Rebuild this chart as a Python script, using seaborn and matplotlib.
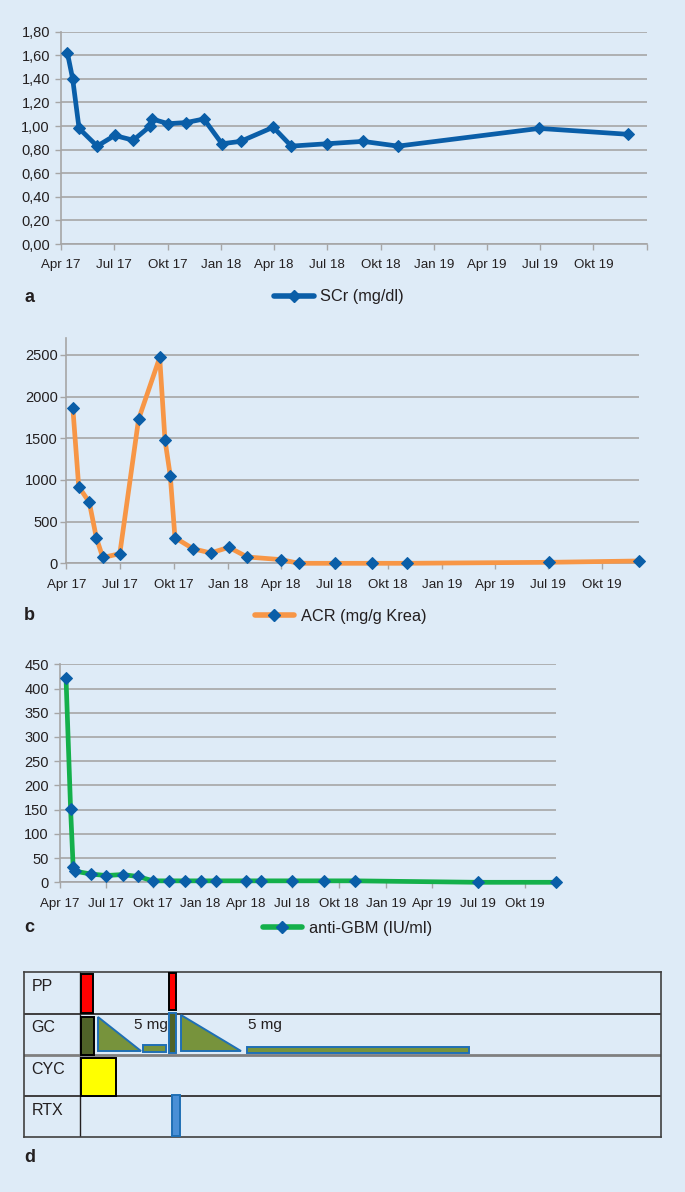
import matplotlib
matplotlib.use('Agg')
import numpy as np
import pandas as pd
import seaborn as sns
import matplotlib.pyplot as plt
from matplotlib.ticker import FuncFormatter
from matplotlib.lines import Line2D

# ---- data ----
scr_dates = ['2017-04-12', '2017-04-21', '2017-05-02', '2017-06-02', '2017-07-02',
             '2017-08-03', '2017-09-01', '2017-09-04', '2017-10-02', '2017-11-02',
             '2017-12-02', '2018-01-02', '2018-02-03', '2018-03-31', '2018-05-01',
             '2018-07-01', '2018-09-01', '2018-10-31', '2019-06-30', '2019-11-30']
scr_values = [1.62, 1.40, 0.98, 0.83, 0.92, 0.88, 1.00, 1.06, 1.02, 1.03,
              1.06, 0.85, 0.87, 0.99, 0.83, 0.85, 0.87, 0.83, 0.98, 0.93]

acr_dates = ['2017-04-12', '2017-04-22', '2017-05-10', '2017-05-22', '2017-06-02',
             '2017-07-01', '2017-08-02', '2017-09-07', '2017-09-16', '2017-09-25',
             '2017-10-03', '2017-11-03', '2017-12-03', '2018-01-03', '2018-02-03',
             '2018-04-02', '2018-05-02', '2018-07-02', '2018-09-03', '2018-11-02',
             '2019-07-03', '2019-12-03']
acr_values = [1860, 920, 732, 308, 70, 115, 1728, 2470, 1480, 1052,
              308, 174, 124, 192, 76, 44, 0, 0, 0, 0, 12, 28]

gbm_dates = ['2017-04-13', '2017-04-22', '2017-04-27', '2017-05-01', '2017-06-01',
             '2017-07-01', '2017-08-02', '2017-09-01', '2017-10-01', '2017-11-02',
             '2017-12-02', '2018-01-02', '2018-02-02', '2018-04-02', '2018-05-01',
             '2018-07-01', '2018-09-01', '2018-11-01', '2019-07-01', '2019-12-01']
gbm_values = [422, 151, 32, 23, 17, 14, 16, 12, 3, 3,
              3, 3, 3, 3, 3, 3, 3, 3, 0, 0]

quarter_dates = ['2017-04-01', '2017-07-01', '2017-10-01', '2018-01-01', '2018-04-01',
                 '2018-07-01', '2018-10-01', '2019-01-01', '2019-04-01', '2019-07-01',
                 '2019-10-01', '2020-01-01']
quarter_labels = ['Apr 17', 'Jul 17', 'Okt 17', 'Jan 18', 'Apr 18', 'Jul 18',
                  'Okt 18', 'Jan 19', 'Apr 19', 'Jul 19', 'Okt 19', '']

scr_yticks = [0, 0.2, 0.4, 0.6, 0.8, 1.0, 1.2, 1.4, 1.6, 1.8]
acr_yticks = [0, 500, 1000, 1500, 2000, 2500]
gbm_yticks = [0, 50, 100, 150, 200, 250, 300, 350, 400, 450]

# therapy schedule (months after start, row index 0=PP 1=GC 2=CYC 3=RTX)
row_labels = ['PP', 'GC', 'CYC', 'RTX']
bar_start = [0.02, 4.98, 0.02, 3.51, 4.96, 9.35, 0.02, 5.16]
bar_end = [0.69, 5.38, 0.76, 4.81, 5.38, 21.8, 1.99, 5.60]
bar_top = [0.05, 0.02, 1.08, 1.77, 0.99, 1.80, 2.08, 2.97]
bar_bottom = [0.99, 0.91, 2.00, 1.93, 1.96, 1.96, 3.00, 3.96]
bar_colors = ['#ff0000', '#ff0000', '#4f6228', '#77933c', '#4f6228', '#77933c', '#ffff00', '#4a8fd6']
bar_edges = ['#000000', '#000000', '#000000', '#1f6fb5', '#1f6fb5', '#1f6fb5', '#000000', '#1f6fb5']
taper_start = [0.96, 5.62]
taper_end = [3.39, 8.98]
taper_top = [1.08, 1.04]
taper_bottom = [1.91, 1.91]
dose_notes = ['5 mg', '5 mg']
dose_x = [3.93, 10.33]

BG = '#deebf7'
GRID = '#a6a6a6'
MARK = '#0a5ea8'

sns.set_style('whitegrid')
plt.rcParams['font.family'] = ['Liberation Sans Narrow', 'Liberation Sans', 'DejaVu Sans']
plt.rcParams['text.color'] = '#231f20'
plt.rcParams['xtick.color'] = GRID
plt.rcParams['ytick.color'] = GRID
plt.rcParams['xtick.labelcolor'] = '#231f20'
plt.rcParams['ytick.labelcolor'] = '#231f20'

fig = plt.figure(figsize=(6.85, 11.92), dpi=100, facecolor=BG)


def line_panel(rect, dates, values, color, lw, yticks, ylim, xend, fmt, ypad):
    ax = fig.add_axes(rect)
    ax.set_facecolor(BG)
    df = pd.DataFrame({'date': pd.to_datetime(dates), 'value': values})
    sns.lineplot(data=df, x='date', y='value', ax=ax, color=color, lw=lw,
                 marker='D', ms=6.2, mfc=MARK, mec=MARK, zorder=3, clip_on=False)
    ax.set_xlim(pd.Timestamp('2017-04-01'), pd.Timestamp(xend))
    ax.set_ylim(*ylim)
    ticks = [d for d in pd.to_datetime(quarter_dates) if d <= pd.Timestamp(xend)]
    ax.set_xticks(ticks)
    ax.set_xticklabels(quarter_labels[:len(ticks)])
    ax.set_yticks(yticks)
    ax.yaxis.set_major_formatter(FuncFormatter(fmt))
    ax.set_xlabel('')
    ax.set_ylabel('')
    ax.grid(False)
    ax.grid(axis='y', color=GRID, lw=1.2)
    for s in ['top', 'right']:
        ax.spines[s].set_visible(False)
    for s in ['left', 'bottom']:
        ax.spines[s].set_color(GRID)
        ax.spines[s].set_linewidth(1.2)
    ax.tick_params(axis='x', length=4, width=1, pad=7, labelsize=9.6, bottom=True)
    ax.tick_params(axis='y', length=4, width=1, pad=ypad, labelsize=10.5, left=True)
    ax.set_axisbelow(True)
    return ax


ax_a = line_panel([61 / 685, 1 - 244 / 1192, 586 / 685, 212.3 / 1192],
                  scr_dates, scr_values, '#0a5ea8', 3.4, scr_yticks, (0, 1.8),
                  '2020-01-01', lambda v, p: f'{v:.2f}'.replace('.', ','), 4)
ax_b = line_panel([66.4 / 685, 1 - 563.3 / 1192, 572.7 / 685, 225 / 1192],
                  acr_dates, acr_values, '#f79646', 3.4, acr_yticks, (0, 2700),
                  '2019-12-03', lambda v, p: f'{v:.0f}', 2)
ax_c = line_panel([59.9 / 685, 1 - 882.3 / 1192, 496.2 / 685, 218 / 1192],
                  gbm_dates, gbm_values, '#14b04b', 3.4, gbm_yticks, (0, 450),
                  '2019-12-01', lambda v, p: f'{v:.0f}', 4)


def legend_at(y, x, color, label):
    h = Line2D([], [], color=color, lw=4, marker='D', ms=6.5, mfc=MARK, mec=MARK)
    fig.legend(handles=[h], labels=[label], loc='center', bbox_to_anchor=(x, y),
               frameon=False, fontsize=11.8, handlelength=2.4, handletextpad=0.4)


legend_at(1 - 297 / 1192, 0.495, '#0a5ea8', 'SCr (mg/dl)')
legend_at(1 - 616 / 1192, 0.497, '#f79646', 'ACR (mg/g Krea)')
legend_at(1 - 928 / 1192, 0.507, '#14b04b', 'anti-GBM (IU/ml)')

for letter, ypx in zip(['a', 'b', 'c', 'd'], [297, 615, 927, 1157]):
    fig.text(24 / 685, 1 - ypx / 1192, letter, fontsize=13, fontweight='bold',
             va='center', ha='left', family=['Liberation Sans', 'DejaVu Sans'])

# ---- panel d: therapy timeline ----
ax_d = fig.add_axes([24 / 685, 1 - 1137.3 / 1192, 636.6 / 685, 165 / 1192])
ax_d.set_facecolor(BG)
ax_d.set_xlim(-3.17, 32.55)
ax_d.set_ylim(4, 0)
ax_d.grid(False)
ax_d.set_xticks([])
ax_d.set_yticks([])
for s in ax_d.spines.values():
    s.set_color('#404040')
    s.set_linewidth(1.2)
ax_d.axvline(0, color='#231f20', lw=1)
for r in [1, 3]:
    ax_d.axhline(r, color='#231f20', lw=1.2)
ax_d.axhline(2, color='#7f7f7f', lw=2)

widths = np.array(bar_end) - np.array(bar_start)
heights = np.array(bar_bottom) - np.array(bar_top)
ax_d.bar(bar_start, heights, width=widths, bottom=bar_top, align='edge',
         color=bar_colors, edgecolor=bar_edges, linewidth=1.4, zorder=3)
for x0, x1, t, b in zip(taper_start, taper_end, taper_top, taper_bottom):
    ax_d.fill([x0, x0, x1], [t, b, b], facecolor='#77933c', edgecolor='#1f6fb5',
              linewidth=1.4, zorder=3)
for txt, x in zip(dose_notes, dose_x):
    ax_d.text(x, 1.27, txt, ha='center', va='center', fontsize=11)
for i, lab in enumerate(row_labels):
    ax_d.text(-2.75, i + 0.35, lab, ha='left', va='center', fontsize=11.5)

fig.savefig('out.png', dpi=100, facecolor=BG)
